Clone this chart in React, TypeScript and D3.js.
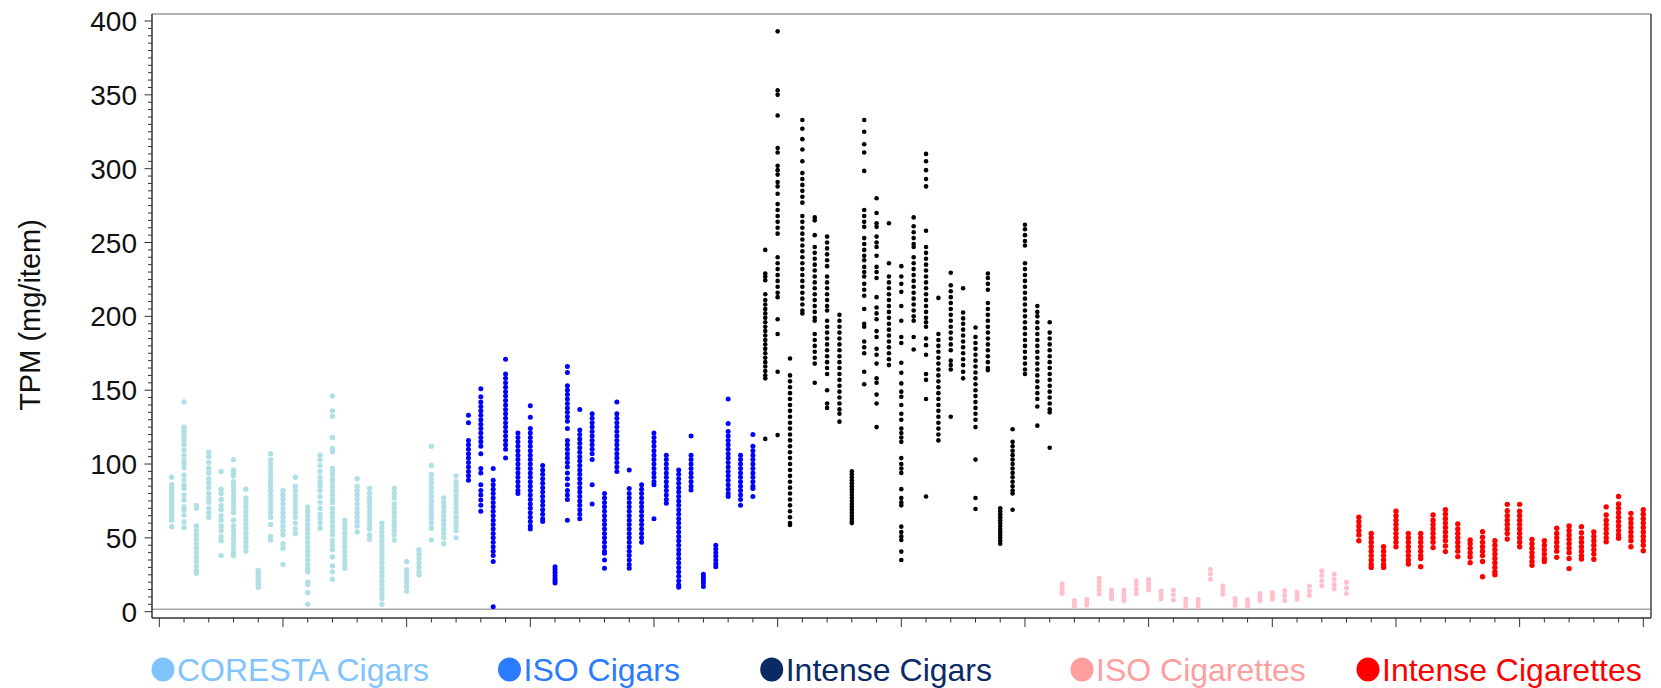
import React from "react";
import * as d3 from "d3";

// ---------- data (TPM mg/item, one inner array per product) ----------
const corestaCigars: number[][] = [
  [91, 86, 84, 82, 80, 78, 76, 74, 72, 70, 68, 66, 64, 62, 57.5],
  [142, 125, 123.4, 121.8, 119.6, 117.3, 115, 112.8, 109.4, 106, 102.7, 100.4, 97.7, 92.5, 89.1, 85.7, 83.5, 79, 75.6, 71.1, 68.8, 65.4, 60.9, 57],
  [72, 70, 58, 55, 52, 49, 46, 43, 40, 37, 34, 31, 28, 26],
  [108, 105, 101, 97, 94, 90, 87, 84, 80, 77, 74, 70, 67, 64],
  [95, 83, 80, 76, 72, 69, 65, 62, 58, 55, 51, 48, 38],
  [103, 96, 94, 92, 88, 85, 82, 79, 76, 73, 70, 67, 62, 58, 55, 52, 49, 46, 43, 40, 38],
  [83, 77, 74, 71, 68, 65, 62, 59, 56, 53, 50, 47, 44, 41],
  [28, 26, 24, 22, 20, 18, 16.5],
  [107, 103, 100, 97, 94, 91, 88, 85, 82, 79, 76, 73, 70, 67, 64, 59, 51, 48.5],
  [82, 79, 76, 73, 70, 67, 64, 61, 58, 55, 52, 46, 43, 32],
  [91, 85, 82, 79, 76, 73, 70, 67, 64, 60, 56, 53],
  [71, 68, 65, 62, 59, 56, 53, 50, 47, 44, 41, 38, 35, 32, 29, 27, 20, 18.5, 13, 5],
  [106, 103, 99, 95, 91, 88, 85, 82, 78, 74, 70, 66, 63, 60, 56.5],
  [146, 136, 132.4, 118, 110.5, 108.3, 97, 95, 93, 90, 88, 85, 82, 79, 76, 74, 70, 67, 64, 61, 58, 55, 52, 48, 45, 42, 37, 31, 27, 22],
  [62, 59, 56, 53, 50, 47, 44, 41, 38, 35, 32, 29.5],
  [90, 85, 82, 79, 76, 73, 70, 67, 64, 61, 58, 54],
  [83.5, 80, 77, 74, 71, 68, 65, 62, 59, 56, 52, 49],
  [60, 57, 54, 51, 48, 45, 42, 39, 36, 33, 30, 27, 24, 21, 18, 15, 12, 9, 5],
  [83.5, 80, 77, 73, 70, 67, 64, 61, 58, 55, 52, 48.5],
  [34, 28.5, 26, 23, 20, 17, 14],
  [42, 39, 36, 33, 30, 27, 25],
  [112, 99, 93, 90, 87, 84, 81, 78, 75, 72, 69, 66, 63, 60, 56.5, 48.5],
  [77, 74, 71, 68, 65, 62, 59, 56, 53, 50, 46],
  [92, 88, 85, 82, 79, 76, 73, 70, 67, 64, 61, 58, 55, 50],
];

const isoCigars: number[][] = [
  [133, 128, 116, 113, 110, 107, 104, 101, 98, 95, 92, 89],
  [151, 145.5, 142, 139, 136, 133, 130, 127, 124, 121, 118, 115, 112, 107, 97, 94, 86, 82, 79, 75.6, 72, 68],
  [97, 89, 86, 83, 80, 77, 74, 71, 68, 65, 62, 59, 56, 53, 50, 47, 44, 41, 38, 34, 3.4],
  [171, 161, 158, 155, 152, 149, 146, 143, 140, 137, 134, 131, 128, 125, 122, 119, 116, 113, 110, 104],
  [121, 118, 115, 112, 109, 106, 103, 100, 97, 94, 91, 88, 85, 82, 80],
  [139.5, 131.6, 124, 121, 118, 115, 112, 109, 106, 103, 100, 97, 94, 91, 88, 85, 82, 79, 76, 73, 70, 67, 64, 61, 58, 56],
  [99, 96, 93, 90, 87, 84, 81, 78, 75, 72, 69, 66, 63, 61],
  [30.5, 28.5, 26.5, 24.5, 22.5, 21, 19.5],
  [166, 162, 153, 150, 147, 144, 141, 138, 135, 132, 129, 124, 116, 113, 110, 107, 104, 101, 98, 94, 90, 86, 82, 79, 76, 62],
  [137, 123, 120, 117, 114, 111, 108, 105, 102, 99, 96, 93, 90, 87, 84, 81, 78, 75, 72, 69, 66, 63],
  [134, 131, 128, 125, 122, 119, 116, 113, 110, 107, 103, 86, 73],
  [80, 77, 74, 71, 68, 65, 62, 59, 56, 53, 50, 47, 44, 41, 39.5, 35, 29.4],
  [142, 134, 131, 128, 125, 122, 119, 116, 113, 110, 107, 104, 101, 98, 95],
  [96, 83.5, 80, 77, 74, 71, 68, 65, 62, 59, 56, 53, 50, 47, 44, 41, 38, 35, 32, 29.4],
  [86, 83, 80, 77, 74, 71, 68, 65, 62, 59, 56, 53, 50, 47],
  [121, 118, 115, 112, 109, 106, 103, 100, 97, 94, 91, 88, 86, 63],
  [106, 103, 100, 97, 94, 91, 88, 85, 82, 79, 76, 73.4],
  [96, 93, 90, 87, 84, 81, 78, 75, 72, 69, 66, 63, 60, 57, 54, 51, 48, 45, 42, 39, 36, 33, 30, 27, 24, 21, 18, 16.5],
  [119, 106, 103, 100, 97, 94, 91, 88, 85, 82.4],
  [25.3, 23.5, 21.5, 19.5, 17],
  [45, 42.5, 40, 37.5, 35, 32.5, 30.5],
  [144, 127.5, 122, 119, 116, 113, 110, 107, 104, 101, 98, 95, 92, 89, 86, 83, 80, 78],
  [106, 103, 100, 97, 94, 91, 88, 85, 82, 79, 76, 72],
  [120, 112, 109, 106, 103, 100, 97, 94, 91, 88, 85, 83.5, 78],
];

const intenseCigars: number[][] = [
  [245, 229, 227, 224.5, 215, 211, 208, 205, 202, 199, 196, 193, 190, 187, 184, 181, 178, 175, 172, 169, 166, 163, 160, 158, 117],
  [393, 353, 350, 336, 314, 311, 302, 299, 296, 291, 288, 283, 276, 272, 268, 264, 260, 256, 240, 236, 232, 228, 224, 220, 216, 213, 198, 188, 162.5, 119.6],
  [171.5, 160, 156, 152, 148, 144, 140, 136, 132, 128, 124, 120, 116, 112, 108, 104, 100, 96, 92, 88, 84, 80, 76, 72, 68, 64, 60, 58.7],
  [333, 327, 320, 313, 305, 297, 293, 289, 285, 281, 277, 268, 264, 260, 256, 252, 248, 244, 240, 236, 232, 228, 224, 220, 216, 212, 208, 204, 202],
  [267, 265, 255, 247, 243, 239, 235, 231, 227, 223, 219, 215, 211, 207, 203, 199, 197, 188, 184, 180, 176, 172, 168, 155],
  [254, 250, 246, 242, 238, 234, 227, 223, 219, 215, 211, 207, 204, 197, 193, 189, 185, 181, 177, 173, 169, 165, 161, 150, 141, 138],
  [201, 197, 193, 189, 185, 181, 177, 173, 169, 165, 161, 157, 153, 149, 145, 141, 137, 134, 128.7],
  [95, 93, 91, 89, 87, 85, 83, 81, 79, 77, 75, 73, 71, 69, 67, 65, 63, 61, 60],
  [333, 325, 316.5, 311, 298.5, 272, 268, 264, 260.6, 253, 249, 245, 241, 238, 233.5, 230, 227, 222, 218, 214, 205, 195, 193, 183, 179, 175, 162.5, 154],
  [280, 270, 263, 260.6, 254, 250, 247, 241, 233.5, 230, 226, 213, 206, 202, 198, 190, 186, 178, 174, 168, 158, 155, 147, 141, 125],
  [263, 236, 227, 223, 219, 215, 211, 207, 203, 199, 195, 191, 187, 183, 179, 175, 171, 167],
  [234, 227, 222, 216.6, 207, 197, 186, 182, 168.6, 161.8, 154.6, 149, 145.6, 140, 134, 130, 124, 121, 118, 115, 104, 100, 97, 94, 83, 77, 74, 72, 57.6, 54, 51, 48.6, 40.7, 35],
  [267, 261, 257, 253, 249, 247, 240, 236, 232, 228, 224, 220, 216, 212, 208, 204, 200, 197, 186, 177.6],
  [310, 305, 299, 293, 288, 258, 247, 243, 239, 235, 231, 227, 223, 219, 215, 211, 207, 203, 199, 196, 193, 185, 180.5, 174, 161, 157, 144, 78],
  [212.5, 188, 184, 180, 176, 172, 168, 164, 160, 156, 152, 148, 144, 140, 136, 132, 128, 124, 120, 116],
  [229.5, 221, 217, 213, 209, 205, 201, 197, 193, 189, 185, 181, 177, 170, 167, 164, 132],
  [219, 202.6, 198.6, 195, 191, 187, 183, 179, 175, 171, 167, 162.5, 158],
  [192.5, 186, 182, 178, 174, 170, 166, 162, 158, 154, 150, 146, 142, 138, 134, 130, 125, 103, 77, 69.5],
  [229, 226, 222, 218, 209, 205, 201, 197, 193, 189, 185, 181, 177, 173, 169, 165, 163.6],
  [70, 68, 66, 64, 62, 60, 58, 56, 54, 52, 50, 48, 46],
  [123.5, 115, 112, 109, 106, 103, 100, 97, 94, 91, 88, 85, 82, 80, 69],
  [262, 259, 255, 251, 248, 236, 232, 228, 224, 220, 216, 212, 208, 204, 200, 196, 192, 188, 184, 180, 176, 172, 168, 164, 161],
  [207, 203, 200, 196, 192, 188, 184, 180, 176, 172, 168, 164, 160, 156, 152, 148, 144, 139, 126],
  [196, 189, 185, 181, 177, 173, 169, 165, 161, 157, 153, 149, 145, 141, 137, 135, 111],
];

const isoCigarettes: number[][] = [
  [19, 17, 15, 13, 12.4],
  [7.5, 5.5, 3.5],
  [8.4, 6.5, 4.5],
  [22.6, 20, 17, 14.5, 12],
  [14.7, 12.5, 10.5, 8.8],
  [14.7, 12, 9.5, 7.5],
  [20.8, 18, 15, 12.4],
  [22, 19.5, 17, 14.7],
  [14, 11.5, 8.6],
  [14.7, 11.5, 8],
  [8.6, 6, 3.4],
  [8.4, 6, 3.4],
  [28.7, 25.5, 22],
  [17.4, 14.5, 11.8],
  [9, 6.5, 4.3],
  [8.1, 5.7, 3.4],
  [12.4, 10, 7.5],
  [13, 10.5, 8.4],
  [14.2, 11, 7.5],
  [13.3, 11, 8.4],
  [17.4, 14, 10.9],
  [27.8, 24.5, 21, 17.6],
  [25.5, 22, 18.5, 15.6],
  [20, 16, 12.4],
];

const intenseCigarettes: number[][] = [
  [64, 61, 58, 55, 52, 48],
  [53, 50, 47, 44, 41, 38, 35, 32, 30],
  [44, 41, 38, 35, 32, 30],
  [68, 65, 62, 59, 56, 53, 50, 47, 44],
  [53, 50, 47, 44, 41, 38, 35, 32.3],
  [53, 50, 47, 44, 41, 38, 36, 30.5],
  [65.5, 62, 59, 56, 53, 50, 47, 43.4],
  [69, 66, 63, 60, 57, 54, 51, 48, 44.5, 40.7],
  [59.4, 56, 53, 50, 47, 44, 41, 37.3],
  [48.6, 46, 43, 40, 37, 33.2],
  [54.2, 50.4, 47, 44, 41, 38, 34, 23.7],
  [48, 45, 42, 39, 36, 33, 30, 27, 25],
  [72.7, 68.4, 65, 62, 59, 56, 53, 49.2],
  [72.7, 68, 65, 62, 59, 56, 53, 50, 47, 44],
  [49, 46, 43, 40, 37, 34, 31.4],
  [48, 45, 42, 39, 36, 34],
  [56.5, 53, 50, 47, 44, 41, 36.8],
  [58, 55, 52, 49, 46, 43, 40, 36, 29.2],
  [57.6, 53.5, 50, 47, 44, 41, 38, 35.7],
  [54, 51, 48, 45, 42, 39, 35.5],
  [71, 65.5, 62, 59, 56, 53, 50, 47.4],
  [78, 73, 70, 67, 64, 61, 58, 55, 52, 49.7],
  [66.6, 63, 60, 57, 54, 51, 48, 44],
  [69, 66, 63, 60, 57, 54, 51, 48, 45, 41.3],
];

const seriesNames = ["CORESTA Cigars", "ISO Cigars", "Intense Cigars", "ISO Cigarettes", "Intense Cigarettes"];
const seriesData = [corestaCigars, isoCigars, intenseCigars, isoCigarettes, intenseCigarettes];
const pointColors = ["#b0e0e6", "#0000ff", "#000000", "#ffc0cb", "#ff0000"];
const legendColors = ["#7fc3ff", "#2a7bff", "#0a2a66", "#ff9e9e", "#ff0000"];
const pointRadius = [2.7, 2.5, 2.3, 2.5, 2.7];
const legendX = [163, 509.5, 771.7, 1082, 1368];

const yTicks = [0, 50, 100, 150, 200, 250, 300, 350, 400];
const yTitle = "TPM (mg/item)";
const refLineValue = 1.6;

export default function App() {
  const W = 1661, H = 688;
  const frameLeft = 152, frameRight = 1651, frameTop = 14, frameBottom = 618;
  const x = d3.scaleLinear().domain([0, 120]).range([159.3, 1643.3]);
  const y = d3.scaleLinear().domain([0, 400]).range([611.7, 21]);
  const perSeries = 24;

  const xTicks = d3.range(0, 121, 2);
  const yMinor = d3.range(0, 401, 5);
  const font = "'Liberation Sans', Arial, Helvetica, sans-serif";

  return (
    <svg width={W} height={H} style={{ position: "absolute", left: 0, top: 0, background: "#fff" }} fontFamily={font}>
      <rect x={0} y={0} width={W} height={H} fill="#ffffff" />
      {/* reference line */}
      <line x1={frameLeft} x2={frameRight} y1={y(refLineValue)} y2={y(refLineValue)} stroke="#a8a8a8" strokeWidth={1.5} />
      {/* points */}
      {seriesData.map((cols, si) => (
        <g key={si} fill={pointColors[si]}>
          {cols.map((vals, ci) =>
            vals.map((v, vi) => (
              <circle key={ci + "-" + vi} cx={x(si * perSeries + ci + 1)} cy={y(v)} r={pointRadius[si]} />
            ))
          )}
        </g>
      ))}
      {/* frame */}
      <line x1={frameLeft} x2={frameRight} y1={frameTop} y2={frameTop} stroke="#666" strokeWidth={1.2} />
      <line x1={frameRight} x2={frameRight} y1={frameTop} y2={frameBottom} stroke="#444" strokeWidth={1.5} />
      <line x1={frameLeft} x2={frameLeft} y1={frameTop} y2={frameBottom} stroke="#333" strokeWidth={1.5} />
      <line x1={frameLeft} x2={frameRight} y1={frameBottom} y2={frameBottom} stroke="#333" strokeWidth={1.5} />
      {/* y ticks */}
      {yMinor.map((t) => (
        <line key={"ym" + t} x1={t % 50 === 0 ? 144.5 : 148} x2={frameLeft} y1={y(t)} y2={y(t)} stroke="#333" strokeWidth={1} />
      ))}
      {yTicks.map((t) => (
        <text key={"yl" + t} x={137} y={y(t)} dy="0.36em" textAnchor="end" fontSize={28} fill="#111">
          {t}
        </text>
      ))}
      {/* x ticks */}
      {xTicks.map((t) => (
        <line key={"xt" + t} x1={x(t)} x2={x(t)} y1={frameBottom} y2={t % 10 === 0 ? 627 : 622.5} stroke="#333" strokeWidth={1} />
      ))}
      {/* y title */}
      <text transform="translate(40,315) rotate(-90)" textAnchor="middle" fontSize={29} fill="#111">
        {yTitle}
      </text>
      {/* legend */}
      {seriesNames.map((name, i) => (
        <g key={name}>
          <ellipse cx={legendX[i]} cy={669.5} rx={11.5} ry={12} fill={legendColors[i]} />
          <text x={legendX[i] + 14} y={681} fontSize={32} fill={legendColors[i]}>
            {name}
          </text>
        </g>
      ))}
    </svg>
  );
}
